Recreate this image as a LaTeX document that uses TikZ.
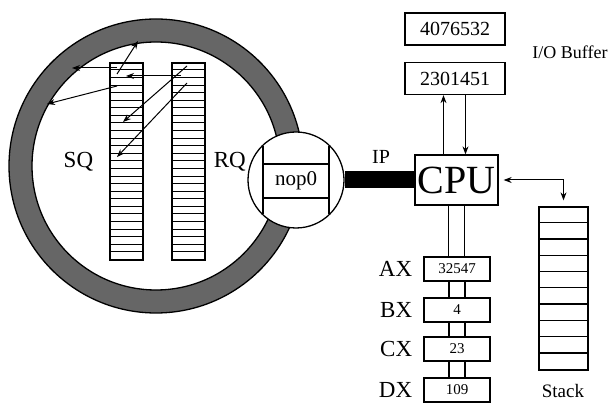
\documentclass[tikz,border=0pt]{standalone}
\usepackage{fontspec}
\setmainfont{Liberation Serif}
\usetikzlibrary{arrows.meta,positioning}

\begin{document}
\begin{tikzpicture}[x=1pt, y=-1pt,
    queue/.style={rectangle, draw, line width=1.3pt, fill=white,
        minimum width=33pt, minimum height=197pt, inner sep=0pt},
    buffer/.style={rectangle, draw, line width=1.3pt, fill=white,
        minimum width=100pt, minimum height=32pt, inner sep=0pt,
        font=\fontsize{20}{20}\selectfont},
    register/.style={rectangle, draw, line width=1.3pt, fill=white,
        minimum width=66pt, minimum height=24pt, inner sep=0pt,
        font=\fontsize{15}{15}\selectfont},
    biglabel/.style={inner sep=0pt, font=\fontsize{23}{23}\selectfont},
    arrow/.style={-{Stealth[length=8pt, width=6pt]}, line width=1pt}
]
    \useasboundingbox (0,0) rectangle (616,403);

    % Soup ring
    \fill[black!60, even odd rule] (156,166) circle[radius=147pt]
        (156,166) circle[radius=124pt];
    \draw[line width=1.3pt] (156,166) circle[radius=147pt];
    \draw[line width=1.3pt] (156,166) circle[radius=124pt];

    % Queues
    \node[queue] (sq) at (126.5,161.5) {};
    \node[queue] (rq) at (188.5,161.5) {};
    \foreach \q in {sq,rq}
        \foreach \i in {1,...,25}
            \draw[line width=1pt] ([yshift=-\i*7.58pt]\q.north west)
                -- ([yshift=-\i*7.58pt]\q.north east);
    \node[biglabel, left=16pt of sq] (sqlabel) {SQ};
    \node[biglabel, right=8pt of rq] (rqlabel) {RQ};

    % Pointers inside the soup
    \coordinate (s1) at (117,74);   \coordinate (r1) at (138,41);
    \coordinate (s2) at (117,68);   \coordinate (r2) at (72,68);
    \coordinate (q3) at (181,76);   \coordinate (s3) at (126,76);
    \coordinate (s4) at (117,86);   \coordinate (r4) at (47,104);
    \coordinate (q5) at (187,66);   \coordinate (s5) at (123,122);
    \coordinate (q6) at (187,83);   \coordinate (s6) at (117,157);
    \draw[arrow] (s1) -- (r1);
    \draw[arrow] (s2) -- (r2);
    \draw[arrow] (q3) -- (s3);
    \draw[arrow] (s4) -- (r4);
    \draw[arrow] (q5) -- (s5);
    \draw[arrow] (q6) -- (s6);

    % Instruction pointer window
    \node[circle, draw, line width=1.3pt, fill=white, minimum size=96pt,
        inner sep=0pt] (window) at (296,180) {};
    \node[rectangle, draw, line width=1.3pt, minimum width=66pt,
        minimum height=34pt, inner sep=0pt,
        font=\fontsize{21}{21}\selectfont] (nop) at (296,181) {nop0};
    \foreach \s in {-33,33}
        \draw[line width=1.3pt] ([xshift=\s pt, yshift=34pt]window.center)
            -- ([xshift=\s pt, yshift=-34pt]window.center);

    % CPU
    \node[rectangle, draw, line width=1.3pt, fill=white,
        minimum width=83pt, minimum height=50pt, inner sep=0pt,
        font=\fontsize{40}{40}\selectfont] (cpu) at (456.5,180) {CPU};
    \draw[line width=17pt] (window.east) -- (cpu.west);
    \node[inner sep=0pt, font=\fontsize{20}{20}\selectfont] (ip) at (381,157) {IP};

    % I/O buffer
    \node[buffer] (buf1) at (455,29) {4076532};
    \node[buffer] (buf2) at (455,78.5) {2301451};
    \node[inner sep=0pt, font=\fontsize{18}{18}\selectfont] (iolabel) at (570,52) {I/O Buffer};
    \draw[arrow] ([xshift=-13pt]cpu.north) -- ([xshift=-13pt]cpu.north |- buf2.south);
    \draw[arrow] ([xshift=9pt]cpu.north |- buf2.south) -- ([xshift=9pt]cpu.north);

    % Registers
    \node[register] (ax) at (457,269) {32547};
    \node[register] (bx) at (457,310) {4};
    \node[register] (cx) at (457,349) {23};
    \node[register] (dx) at (457,390) {109};
    \foreach \a/\b in {cpu/ax, ax/bx, bx/cx, cx/dx}
        \foreach \s in {-8,8}
            \draw[line width=1.3pt] ([xshift=\s pt]\a.south)
                -- ([xshift=\s pt]\a.south |- \b.north);
    \node[biglabel, left=11pt of ax] {AX};
    \node[biglabel, left=11pt of bx] {BX};
    \node[biglabel, left=11pt of cx] {CX};
    \node[biglabel, left=11pt of dx] {DX};

    % Stack
    \node[rectangle, draw, line width=1.3pt, minimum width=49pt,
        minimum height=163pt, inner sep=0pt] (stack) at (563.5,288.5) {};
    \foreach \i in {1,...,9}
        \draw[line width=1.3pt] ([yshift=-\i*16.3pt]stack.north west)
            -- ([yshift=-\i*16.3pt]stack.north east);
    \node[inner sep=0pt, font=\fontsize{19}{19}\selectfont] (stacklabel) at (563,391) {Stack};
    \draw[{Stealth[length=8pt, width=6pt]}-{Stealth[length=8pt, width=6pt]},
        line width=1pt, shorten <=5pt, shorten >=6pt] (cpu.east) -| (stack.north);
\end{tikzpicture}
\end{document}
